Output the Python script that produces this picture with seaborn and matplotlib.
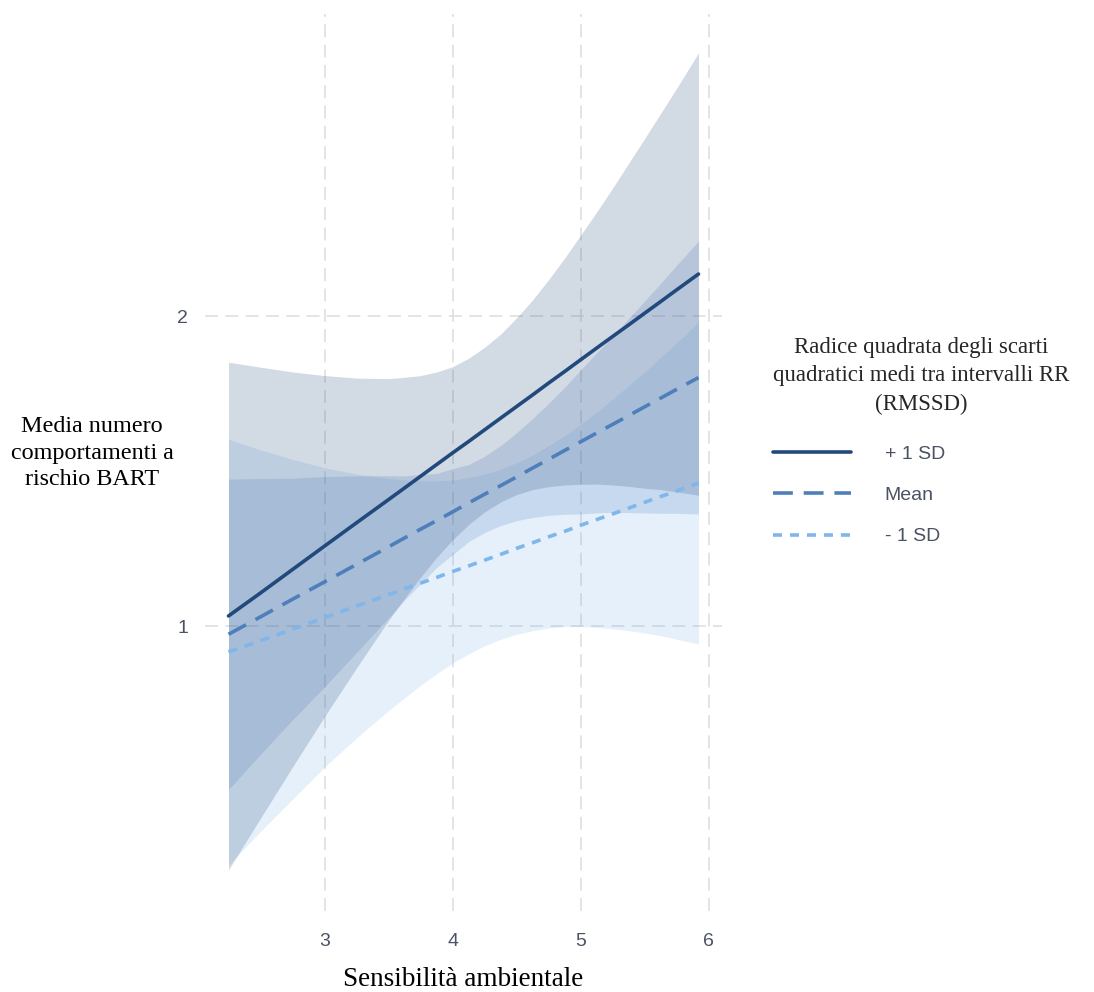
import numpy as np
import pandas as pd
import matplotlib
matplotlib.use("Agg")
import matplotlib.pyplot as plt
from matplotlib.lines import Line2D
from matplotlib.ticker import FixedLocator, FixedFormatter, NullLocator
import seaborn as sns

# ---------------- data ----------------
x_vals = [2.25, 2.5, 2.75, 3.0, 3.25, 3.5, 3.625, 3.75, 3.875, 4.0, 4.125, 4.25, 4.375,
          4.5, 4.625, 4.75, 4.875, 5.0, 5.125, 5.25, 5.375, 5.5, 5.625, 5.75, 5.92]

groups = ["+ 1 SD", "Mean", "- 1 SD"]

fit_plus = [1.023, 1.077, 1.135, 1.196, 1.260, 1.327, 1.362, 1.398, 1.435, 1.473, 1.511, 1.551, 1.592,
            1.634, 1.677, 1.722, 1.767, 1.814, 1.862, 1.911, 1.961, 2.013, 2.066, 2.121, 2.197]
lo_plus = [0.580, 0.651, 0.730, 0.817, 0.911, 1.013, 1.064, 1.116, 1.166, 1.213, 1.255, 1.291, 1.320,
           1.342, 1.357, 1.366, 1.371, 1.373, 1.374, 1.371, 1.367, 1.361, 1.357, 1.350, 1.340]
hi_plus = [1.804, 1.784, 1.765, 1.751, 1.741, 1.739, 1.744, 1.751, 1.765, 1.786, 1.820, 1.865, 1.921,
           1.992, 2.074, 2.170, 2.277, 2.397, 2.524, 2.663, 2.815, 2.975, 3.147, 3.329, 3.602]

fit_mean = [0.982, 1.021, 1.062, 1.104, 1.148, 1.194, 1.218, 1.242, 1.266, 1.291, 1.317, 1.343, 1.369,
            1.396, 1.424, 1.452, 1.481, 1.510, 1.540, 1.570, 1.601, 1.633, 1.665, 1.698, 1.743]
lo_mean = [0.694, 0.751, 0.811, 0.873, 0.943, 1.019, 1.060, 1.099, 1.140, 1.173, 1.208, 1.233, 1.252,
           1.266, 1.275, 1.281, 1.284, 1.285, 1.288, 1.290, 1.289, 1.288, 1.287, 1.287, 1.285]
hi_mean = [1.389, 1.391, 1.392, 1.397, 1.399, 1.400, 1.399, 1.404, 1.407, 1.422, 1.435, 1.462, 1.497,
           1.541, 1.591, 1.646, 1.706, 1.773, 1.842, 1.912, 1.989, 2.069, 2.152, 2.241, 2.365]

fit_minus = [0.944, 0.968, 0.993, 1.019, 1.046, 1.073, 1.087, 1.101, 1.115, 1.130, 1.144, 1.159, 1.174,
             1.190, 1.205, 1.221, 1.236, 1.253, 1.269, 1.285, 1.302, 1.319, 1.336, 1.353, 1.377]
lo_minus = [0.586, 0.632, 0.679, 0.730, 0.779, 0.828, 0.852, 0.876, 0.899, 0.921, 0.940, 0.957, 0.971,
            0.982, 0.990, 0.996, 0.999, 0.999, 0.997, 0.994, 0.990, 0.985, 0.979, 0.971, 0.961]
hi_minus = [1.519, 1.483, 1.452, 1.425, 1.405, 1.391, 1.386, 1.384, 1.384, 1.386, 1.394, 1.404, 1.420,
            1.441, 1.466, 1.497, 1.531, 1.570, 1.613, 1.661, 1.712, 1.765, 1.824, 1.884, 1.973]

x_ticks = [3, 4, 5, 6]
y_ticks = [1, 2]
y_tick_labels = ["1", "2"]

x_label = "Sensibilità ambientale"
y_label = "Media numero\ncomportamenti a\nrischio BART"
legend_title = "Radice quadrata degli scarti\nquadratici medi tra intervalli RR\n(RMSSD)"

# ---------------- style ----------------
colors = {"+ 1 SD": "#22497c", "Mean": "#4f7fba", "- 1 SD": "#7fb6ec"}
dash_map = {"+ 1 SD": "", "Mean": (5.5, 3.0), "- 1 SD": (2.5, 2.2)}
line_w = 2.6
sans = "Liberation Sans"
serif = "Liberation Serif"
text_col = "#4a5263"

sns.set_theme(style="white")
plt.rcParams["font.family"] = [sans, "DejaVu Sans"]

df = pd.concat([
    pd.DataFrame({"x": x_vals, "fit": fit_plus, "lo": lo_plus, "hi": hi_plus, "group": groups[0]}),
    pd.DataFrame({"x": x_vals, "fit": fit_mean, "lo": lo_mean, "hi": hi_mean, "group": groups[1]}),
    pd.DataFrame({"x": x_vals, "fit": fit_minus, "lo": lo_minus, "hi": hi_minus, "group": groups[2]}),
], ignore_index=True)

fig = plt.figure(figsize=(10.94, 9.92), dpi=100)
ax = fig.add_axes([205 / 1094, 1 - 911 / 992, (722 - 205) / 1094, (911 - 14) / 992])

ax.set_yscale("log")

# confidence ribbons
for g in groups[::-1]:
    sub = df[df["group"] == g]
    ax.fill_between(sub["x"], sub["lo"], sub["hi"], color=colors[g], alpha=0.2, linewidth=0)

# predicted lines
sns.lineplot(data=df, x="x", y="fit", hue="group", style="group",
             hue_order=groups, style_order=groups, palette=colors,
             dashes=dash_map, linewidth=line_w, legend=False, ax=ax,
             estimator=None, sort=False)

ax.set_xlim(2.0665, 6.1035)
ax.set_ylim(0.529, 3.929)

ax.xaxis.set_major_locator(FixedLocator(x_ticks))
ax.xaxis.set_major_formatter(FixedFormatter([str(t) for t in x_ticks]))
ax.xaxis.set_minor_locator(NullLocator())
ax.yaxis.set_major_locator(FixedLocator(y_ticks))
ax.yaxis.set_major_formatter(FixedFormatter(y_tick_labels))
ax.yaxis.set_minor_locator(NullLocator())

for s in ax.spines.values():
    s.set_visible(False)
ax.set_axisbelow(True)
ax.grid(True, which="major", color="#dddddd", linestyle=(0, (8.5, 4.8)), linewidth=1.1)

ax.tick_params(axis="x", length=0, pad=16, labelsize=14, labelcolor=text_col)
ax.tick_params(axis="y", length=0, pad=12, labelsize=14, labelcolor=text_col)
for lab in ax.get_xticklabels() + ax.get_yticklabels():
    lab.set_fontfamily(sans)

ax.set_xlabel(x_label, fontfamily=serif, fontsize=19.5, color="black")
ax.xaxis.set_label_coords(0.5, (911 - 980) / 897)
ax.xaxis.label.set_va("center")

ax.set_ylabel(y_label, fontfamily=serif, fontsize=17.4, color="black", rotation=0,
              ha="center", va="center", multialignment="center", linespacing=1.36)
ax.yaxis.set_label_coords((92 - 205) / 517, (911 - 453) / 897)

handles = [Line2D([0], [0], color=colors[g], linewidth=line_w,
                  linestyle=(0, dash_map[g]) if dash_map[g] else "-") for g in groups]
leg = fig.legend(handles, groups, loc="upper center",
                 bbox_to_anchor=(921 / 1094, 1 - 327 / 992),
                 frameon=False, title=legend_title,
                 title_fontproperties={"family": serif, "size": 16.4},
                 prop={"family": sans, "size": 14},
                 handlelength=4.0, handletextpad=1.75, labelspacing=1.21,
                 borderpad=0, alignment="left")
leg.get_title().set_multialignment("center")
leg.get_title().set_linespacing(1.47)
for t in leg.get_texts():
    t.set_color(text_col)
leg._legend_box.sep = 22

fig.savefig("out.png", dpi=100)
